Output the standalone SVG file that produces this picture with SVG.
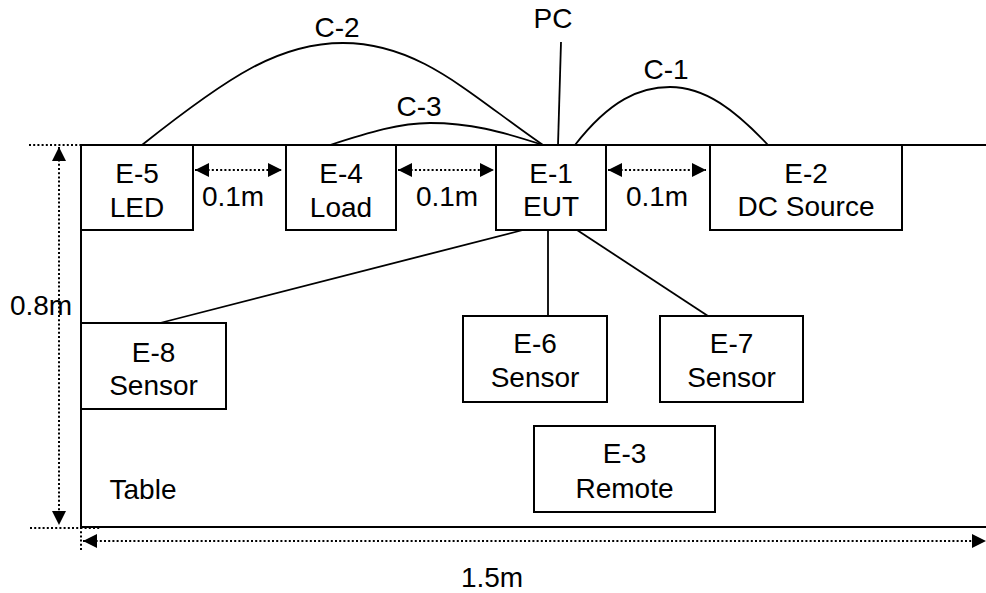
<svg xmlns="http://www.w3.org/2000/svg" width="986" height="593" viewBox="0 0 986 593">
<style>
  text { font-family: "Liberation Sans", Arial, sans-serif; font-size: 28px; fill: #000; text-anchor: middle; }
  .box { fill: #fff; stroke: #000; stroke-width: 2; }
  .ln { fill: none; stroke: #000; stroke-width: 1.8; }
  .dot { fill: none; stroke: #000; stroke-width: 2; stroke-dasharray: 2 2.2; }
  .dim { fill: none; stroke: #000; stroke-width: 2; stroke-dasharray: 2 2.2; marker-start: url(#ah); marker-end: url(#ah); }
</style>
<defs>
  <marker id="ah" markerUnits="userSpaceOnUse" markerWidth="15" markerHeight="14" refX="14" refY="7" orient="auto-start-reverse" viewBox="0 0 15 14">
    <path d="M0,0 L14,7 L0,14 z" fill="#000"/>
  </marker>
</defs>
<rect width="986" height="593" fill="#fff"/>

<g id="table">
  <path class="ln" d="M81,145 H986 M81,145 V527 H986" style="stroke-width:2"/>
  <text x="143" y="499">Table</text>
</g>

<g id="dimensions">
  <path class="dot" d="M29,145 H98 M30,528 H100 M81,527 V551"/>
  <line class="dim" x1="59" y1="147" x2="59" y2="525"/>
  <line class="dim" x1="83" y1="541" x2="986" y2="541"/>
  <text x="41" y="315">0.8m</text>
  <text x="492" y="587">1.5m</text>
  <line class="dim" x1="195" y1="170" x2="282" y2="170"/>
  <line class="dim" x1="398" y1="170" x2="494" y2="170"/>
  <line class="dim" x1="608" y1="170" x2="706" y2="170"/>
  <text x="233" y="206">0.1m</text>
  <text x="447" y="206">0.1m</text>
  <text x="657" y="206">0.1m</text>
</g>

<g id="connectors">
  <path class="ln" d="M142,145 C230,75 280,43 343,43 C420,43 470,95 543,145"/>
  <path class="ln" d="M330,145 C370,132 400,123 430,123 C470,123 500,131 543,145"/>
  <path class="ln" d="M575,145 C610,100 640,87 670,87 C705,87 735,110 768,145"/>
  <line class="ln" x1="561" y1="42" x2="558" y2="145"/>
  <line class="ln" x1="523" y1="230" x2="160" y2="323"/>
  <line class="ln" x1="548" y1="230" x2="548" y2="316"/>
  <line class="ln" x1="577" y1="230" x2="708" y2="316"/>
  <text x="337" y="37">C-2</text>
  <text x="419" y="116">C-3</text>
  <text x="666" y="79">C-1</text>
  <text x="553" y="28">PC</text>
</g>

<g id="E-5">
  <rect class="box" x="81" y="145" width="112" height="85"/>
  <text x="137" y="183">E-5</text>
  <text x="137" y="217">LED</text>
</g>
<g id="E-4">
  <rect class="box" x="286" y="145" width="110" height="85"/>
  <text x="341" y="183">E-4</text>
  <text x="341" y="217">Load</text>
</g>
<g id="E-1">
  <rect class="box" x="496" y="145" width="110" height="85"/>
  <text x="551" y="183">E-1</text>
  <text x="551" y="216">EUT</text>
</g>
<g id="E-2">
  <rect class="box" x="710" y="145" width="192" height="85"/>
  <text x="806" y="183">E-2</text>
  <text x="806" y="216">DC Source</text>
</g>
<g id="E-8">
  <rect class="box" x="81" y="323" width="145" height="86"/>
  <text x="153.5" y="362">E-8</text>
  <text x="153.5" y="395">Sensor</text>
</g>
<g id="E-6">
  <rect class="box" x="463" y="316" width="144" height="86"/>
  <text x="535" y="353">E-6</text>
  <text x="535" y="387">Sensor</text>
</g>
<g id="E-7">
  <rect class="box" x="660" y="316" width="143" height="86"/>
  <text x="731.5" y="353">E-7</text>
  <text x="731.5" y="387">Sensor</text>
</g>
<g id="E-3">
  <rect class="box" x="534" y="426" width="181" height="86"/>
  <text x="624.5" y="463">E-3</text>
  <text x="624.5" y="498">Remote</text>
</g>
</svg>
